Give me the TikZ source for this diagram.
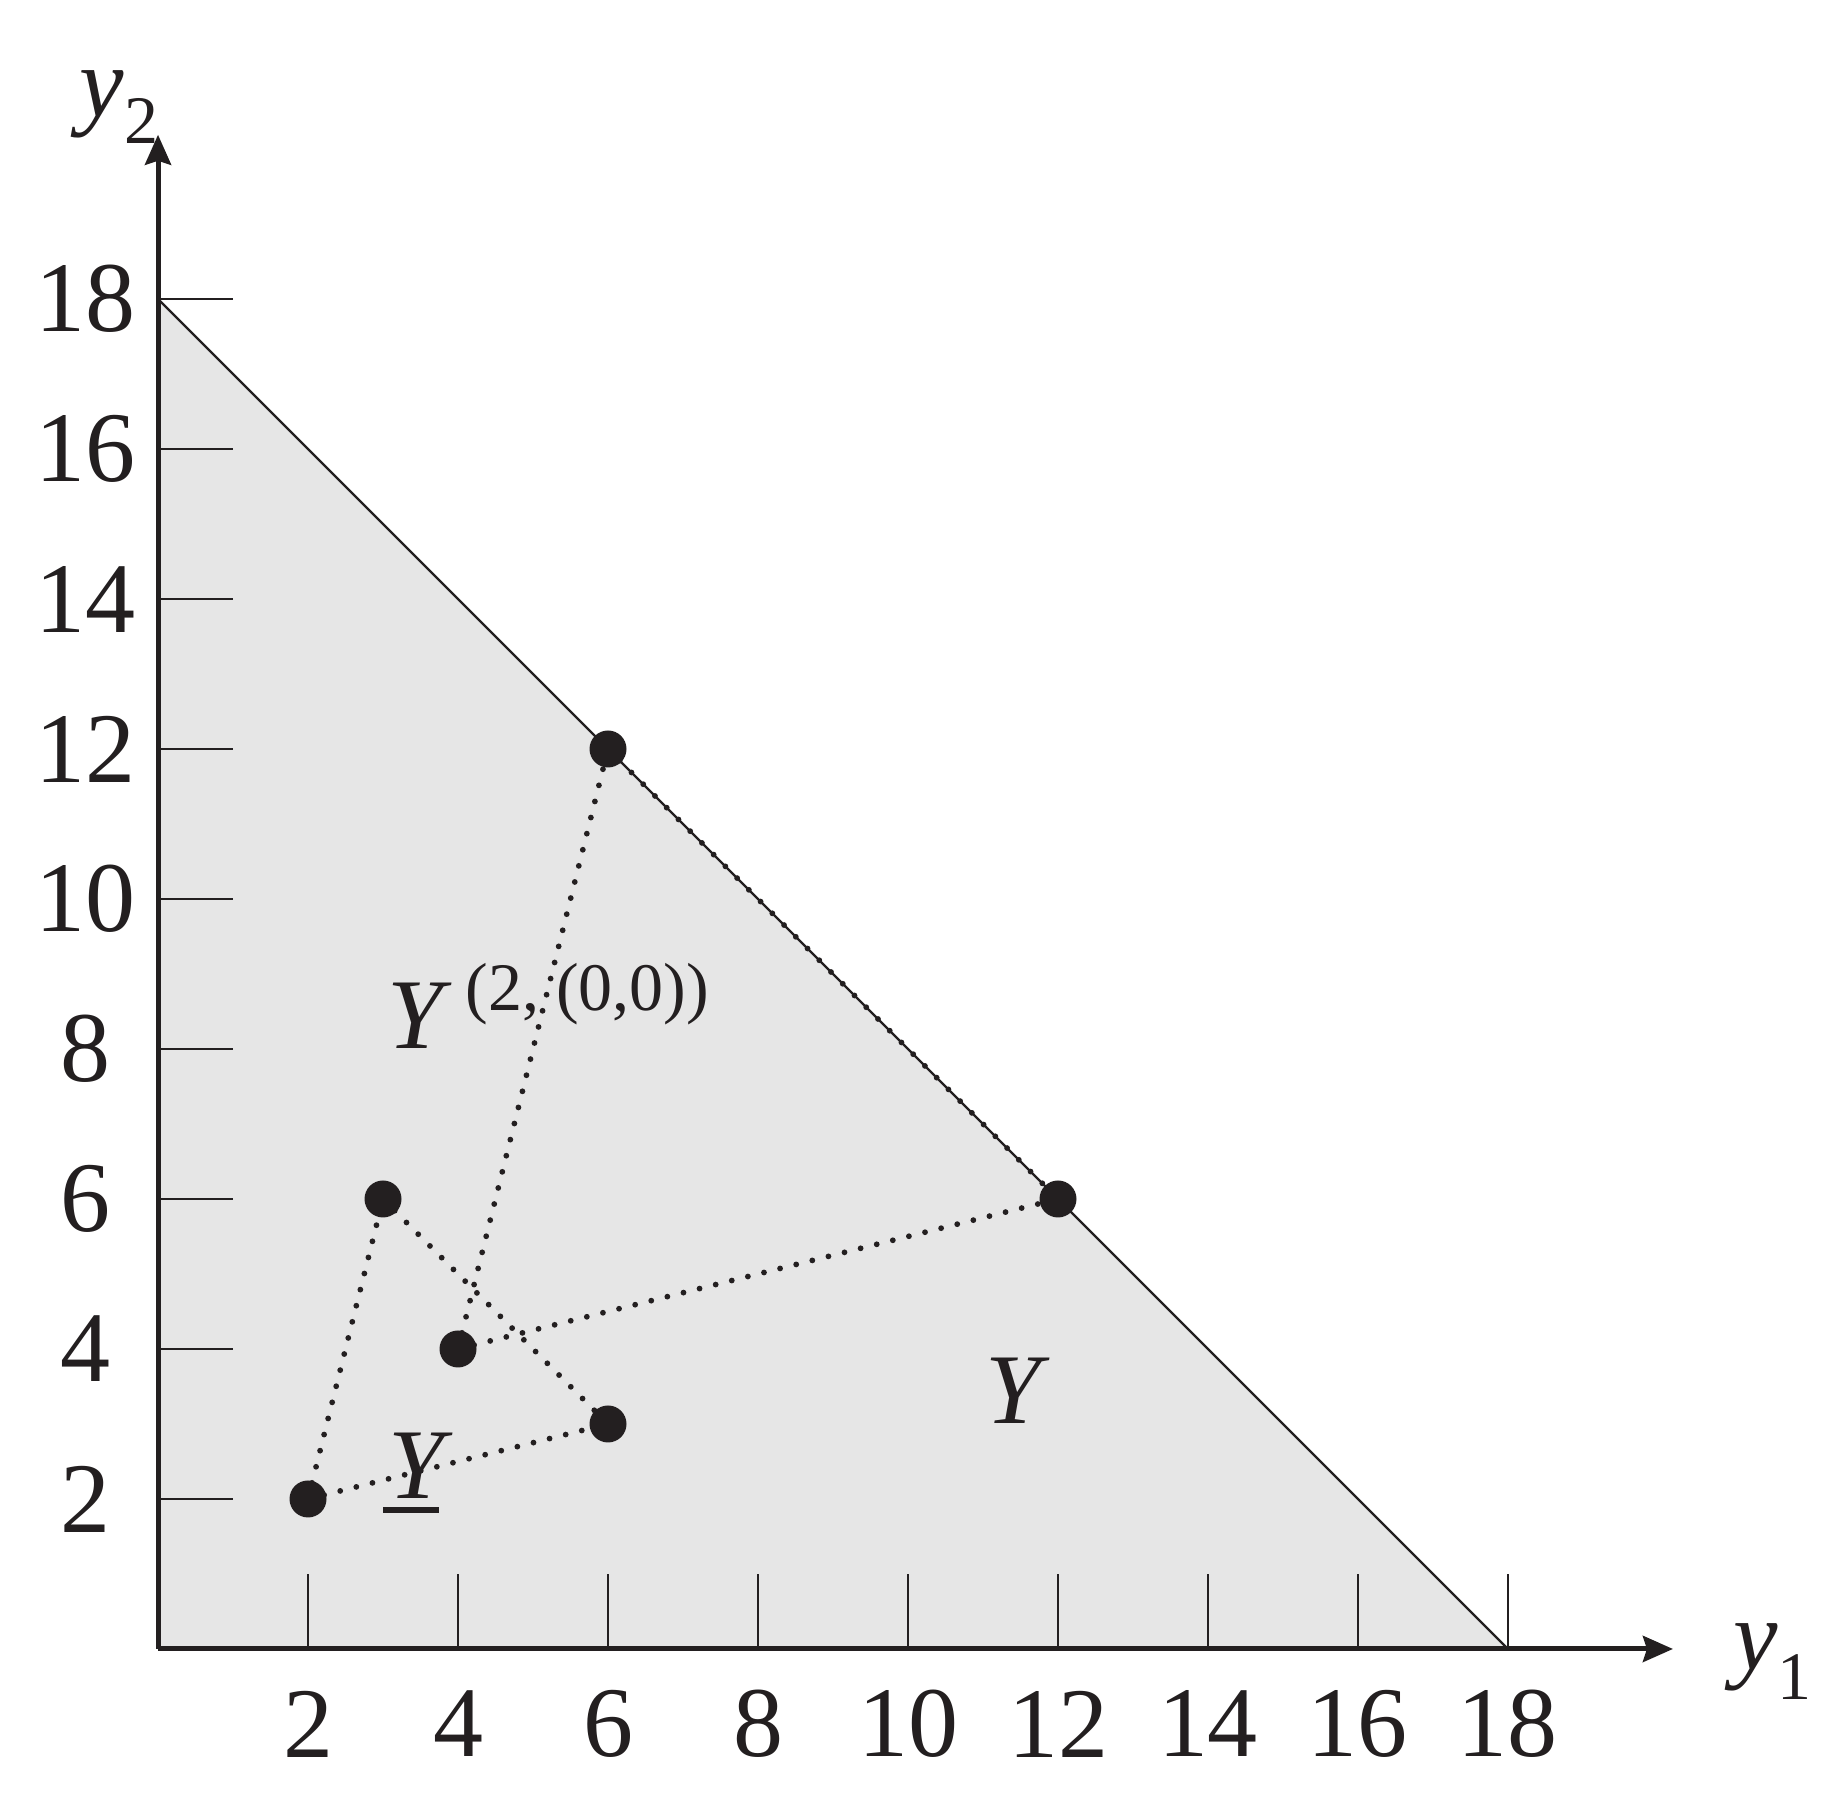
\documentclass[tikz,border=0pt]{standalone}
\usepackage{fontspec}
\setmainfont{Liberation Serif}
\usetikzlibrary{arrows.meta}
\definecolor{ink}{RGB}{35,31,32}
\definecolor{regiongray}{RGB}{230,230,230}
\begin{document}
\begin{tikzpicture}[x=37.5pt,y=37.5pt,
  axis/.style={line width=2.5pt, draw=ink, -{Stealth[length=15pt,width=13pt,inset=2pt]}},
  tickline/.style={line width=1.1pt, draw=ink},
  dotline/.style={draw=ink, line width=2.9pt, line cap=round, dash pattern=on 0pt off 8.3pt},
  dot/.style={circle, fill=ink, minimum size=18.5pt, inner sep=0pt},
  lab/.style={font=\fontsize{50}{50}\selectfont, text=ink, inner sep=0pt},
  ]
\useasboundingbox (-2.107,-2.107) rectangle (22.507,21.987);
\coordinate (O) at (0,0);
\coordinate (X18) at (18,0);
\coordinate (Y18) at (0,18);
\coordinate (Xend) at (20.2,0);
\coordinate (Yend) at (0,20.19);
% feasible region
\fill[regiongray] (O) -- (X18) -- (Y18) -- cycle;
\draw[tickline] (Y18) -- (X18);
% ticks and labels
\foreach \k in {2,4,...,18}{
  \draw[tickline] (\k,0) -- (\k,1);
  \draw[tickline] (0,\k) -- (1,\k);
  \node[lab] (xl\k) at (\k,-1) {\k};
  \node[lab] (yl\k) at (-0.97,\k) {\k};
}
% axes
\draw[axis] (O) -- (Xend);
\draw[axis] (O) -- (Yend);
% points
\coordinate (a) at (2,2);
\coordinate (b) at (3,6);
\coordinate (c) at (4,4);
\coordinate (d) at (6,3);
\coordinate (e) at (6,12);
\coordinate (f) at (12,6);
\draw[dotline] (a) -- (b);
\draw[dotline] (b) -- (d);
\draw[dotline] (a) -- (d);
\draw[dotline] (c) -- (e);
\draw[dotline] (c) -- (f);
\draw[dotline] (e) -- (f);
\foreach \p in {a,b,c,d,e,f}{\node[dot] (dot\p) at (\p) {};}
% axis labels
\node[lab, anchor=base west] (y1lab) at (21.0,-0.27) {\textit{y}\raisebox{-15pt}{\fontsize{34}{34}\selectfont 1}};
\node[lab, anchor=base west] (y2lab) at (-1.05,20.44) {\textit{y}\raisebox{-13.5pt}{\fontsize{34}{34}\selectfont 2}};
% set labels
\node[lab, anchor=base west] (Ysup) at (3.05,8.01) {\textit{Y}\kern 7pt\raisebox{19pt}{\fontsize{34}{34}\selectfont (2, (0,0))}};
\node[lab, anchor=base west] (Yset) at (11.03,3.01) {\textit{Y}};
\node[lab, anchor=base west] (Ybar) at (3.07,2.01) {\textit{Y}};
\draw[ink, line width=2.8pt] ([xshift=-2.6pt,yshift=-5.9pt]Ybar.base west) -- ++(28pt,0);
\end{tikzpicture}
\end{document}
